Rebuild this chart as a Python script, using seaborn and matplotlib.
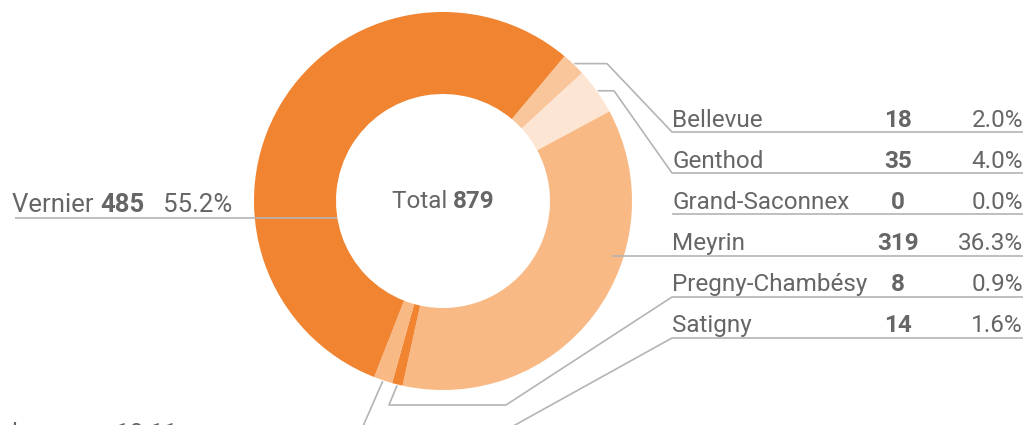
import numpy as np
import matplotlib
matplotlib.use("Agg")
import matplotlib.pyplot as plt
import seaborn as sns

# data
communes = ["Bellevue", "Genthod", "Grand-Saconnex", "Meyrin",
            "Pregny-Chambésy", "Satigny", "Vernier"]
counts = [18, 35, 0, 319, 8, 14, 485]
pct_labels = ["2.0%", "4.0%", "0.0%", "36.3%", "0.9%", "1.6%", "55.2%"]
total = 879
slice_colors = ["#F9C59B", "#FDE5D3", "#F8B985", "#F8B985",
                "#F08431", "#F8B985", "#F08431"]

TEXT = "#666666"
LINE = "#B4B4B4"

sns.set_theme(style="white")
plt.rcParams["font.family"] = ["Roboto", "DejaVu Sans"]

W, H = 1027, 425
fig = plt.figure(figsize=(W / 100, H / 100), dpi=100)
ax = fig.add_axes([0, 0, 1, 1])

cx, cy, r_out, r_in = 443, 201, 189, 107
# y axis points down (pixel-like), so counterclock=True draws clockwise on screen
wedges, _ = ax.pie(counts, colors=slice_colors, startangle=-50, counterclock=True,
                   radius=r_out, center=(cx, cy),
                   wedgeprops=dict(width=r_out - r_in, linewidth=0))
ax.set_xlim(0, W)
ax.set_ylim(H, 0)
ax.set_aspect("equal")
ax.axis("off")


def anchor(i, r=190):
    w = wedges[i]
    a = np.deg2rad((w.theta1 + w.theta2) / 2)
    return cx + r * np.cos(a), cy + r * np.sin(a)


def leader(pts):
    xs, ys = zip(*pts)
    ax.plot(xs, ys, color=LINE, lw=1.2, solid_capstyle="butt", zorder=3, clip_on=False)


fs = 17.5
x_name, x_num, x_pct, x_end = 672, 898, 1023, 1023
baselines = [127, 168, 209, 250, 291, 332]
under = [132, 173, 214, 256, 297, 338]

# leader lines for the right-hand table
ax0 = anchor(0)
leader([ax0, (607, ax0[1]), (x_name, under[0]), (x_end, under[0])])
ax1 = anchor(1)
leader([ax1, (614, ax1[1]), (x_name, under[1]), (x_end, under[1])])
leader([(x_name, under[2]), (x_end, under[2])])
leader([(612, under[3]), (x_end, under[3])])
ax4 = anchor(4)
leader([ax4, (389, 405), (506, 405), (x_name, under[4]), (x_end, under[4])])
ax5 = anchor(5)
leader([ax5, (357, 440)])
leader([(488, 440), (x_name, under[5]), (x_end, under[5])])

for i in range(6):
    y = baselines[i]
    ax.text(x_name, y, communes[i], fontsize=fs, color=TEXT, va="baseline", ha="left")
    ax.text(x_num, y, str(counts[i]), fontsize=fs, color=TEXT, va="baseline",
            ha="center", fontweight="bold")
    ax.text(x_pct, y, pct_labels[i], fontsize=fs, color=TEXT, va="baseline", ha="right")

# Vernier label on the left
fs_v = 18.5
leader([(15, 218), (cx - r_in + 1, 218)])
t1 = ax.text(12, 212, communes[6] + " ", fontsize=fs_v, color=TEXT, va="baseline")
t2 = ax.annotate(str(counts[6]), xy=(1, 0), xycoords=t1, va="bottom",
                 fontsize=fs_v, color=TEXT, fontweight="bold")
ax.annotate("   " + pct_labels[6], xy=(1, 0), xycoords=t2, va="bottom",
            fontsize=fs_v, color=TEXT)

# centre total
fig.canvas.draw()
rend = fig.canvas.get_renderer()
tmp1 = ax.text(0, 0, "Total ", fontsize=fs)
tmp2 = ax.text(0, 0, str(total), fontsize=fs, fontweight="bold")
w1 = tmp1.get_window_extent(rend).width
w2 = tmp2.get_window_extent(rend).width
tmp1.remove()
tmp2.remove()
c1 = ax.text(cx - (w1 + w2) / 2, 208, "Total ", fontsize=fs, color=TEXT, va="baseline")
ax.annotate(str(total), xy=(1, 0), xycoords=c1, va="bottom",
            fontsize=fs, color=TEXT, fontweight="bold")

# footnote that is cut off by the bottom edge, as in the original
ax.text(12, 440, "les cours 10-11", fontsize=fs, color=TEXT, va="baseline", clip_on=False)

fig.savefig("out.png", dpi=100)
